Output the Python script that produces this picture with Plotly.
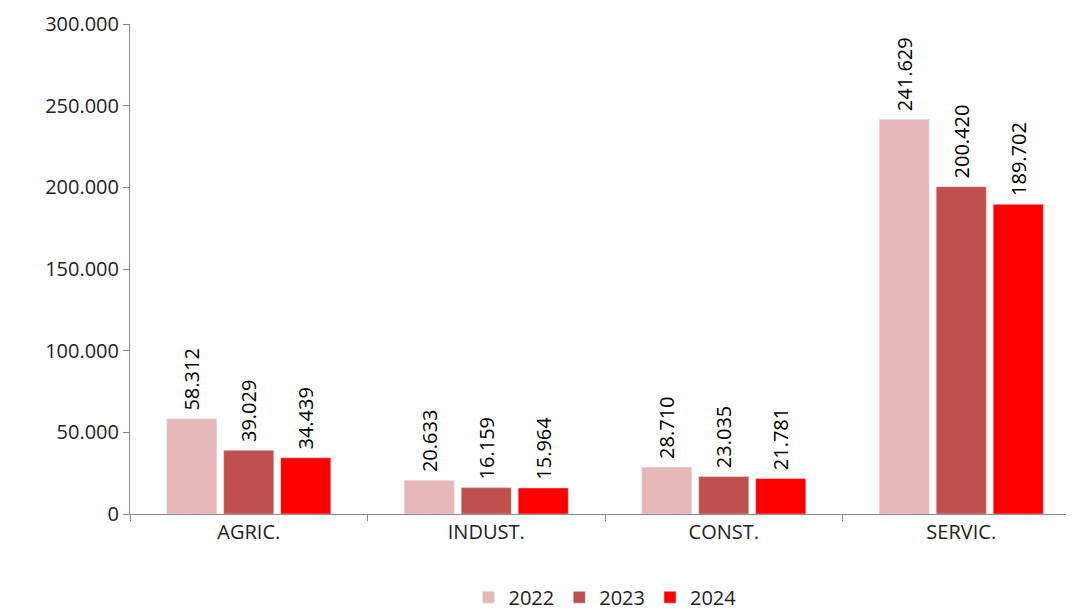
import plotly.graph_objects as go

# Data
# ----------------------
sectors = ['AGRIC.', 'INDUST.', 'CONST.', 'SERVIC.']
v2022 = [58312, 20633, 28710, 241629]
v2023 = [39029, 16159, 23035, 200420]
v2024 = [34439, 15964, 21781, 189702]

years = ['2022', '2023', '2024']
colors = ['#E6B8B7', '#C0504D', '#FF0000']

# dot as thousands separator, small padding so labels sit off the bar tops
fmt = lambda v: '\u00a0' + f'{v:,}'.replace(',', '.') + '\u00a0\u00a0'

fig = go.Figure()
for name, vals, col in zip(years, [v2022, v2023, v2024], colors):
    fig.add_trace(go.Bar(x=sectors, y=vals, name=name, marker_color=col,
                         text=[fmt(v) for v in vals], textposition='outside',
                         textangle=-90, cliponaxis=False, constraintext='none',
                         textfont=dict(size=20, color='black')))

fig.update_layout(
    width=1074, height=611,
    plot_bgcolor='white', paper_bgcolor='white',
    font=dict(family='Open Sans, Liberation Sans', size=20, color='#222'),
    separators=',.',
    barmode='group', bargap=0.28, bargroupgap=0.12,
    margin=dict(l=122, r=2, t=16, b=98),
    legend=dict(orientation='h', x=0.5, xanchor='center', y=-0.13, yanchor='top',
                font=dict(size=20)),
)
fig.update_yaxes(range=[0, 300000], dtick=50000, tickformat=',.0f',
                 showgrid=False, showline=True, linecolor='#888',
                 ticks='outside', ticklen=6, tickcolor='#888')
fig.update_xaxes(showline=True, linecolor='#888', ticks='outside', ticklen=6,
                 tickcolor='#888', tickson='boundaries')

fig.write_html('out.html')
